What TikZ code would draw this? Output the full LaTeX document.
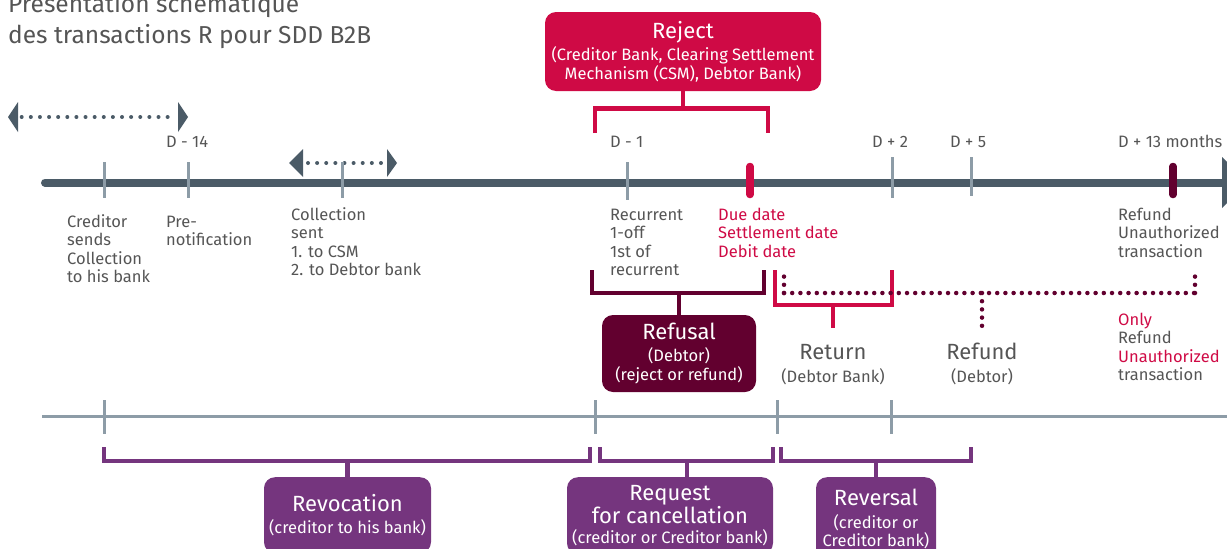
\documentclass[tikz,border=0pt]{standalone}
\usepackage{fontspec}
\setmainfont{Fira Sans}
\definecolor{slate}{HTML}{4B5B67}
\definecolor{tickgray}{HTML}{8D9CA7}
\definecolor{crim}{HTML}{CF0A45}
\definecolor{maroon}{HTML}{62002F}
\definecolor{purp}{HTML}{75357E}
\definecolor{txtgray}{HTML}{555555}
\newcommand\BigTxt{\fontsize{22}{24}\selectfont}
\tikzset{
  lbl/.style={font=\fontsize{16.5}{18.6}\selectfont, text=txtgray, inner sep=0pt, align=left, anchor=base west},
  clbl/.style={lbl, align=center, anchor=base},
  ttl/.style={font=\fontsize{24.5}{31}\selectfont, text=txtgray, inner sep=0pt, align=left, anchor=base west},
  tickline/.style={draw=tickgray, line width=3pt},
  fattick/.style={line width=7.5pt, line cap=round},
  mainline/.style={draw=slate, line width=8pt, line cap=round},
  box/.style={rounded corners=11pt, inner sep=0pt, align=center, text=white, font=\fontsize{16.5}{18.6}\selectfont},
  brk/.style={line width=4.5pt},
  dotline/.style={line width=4.5pt, line cap=round, dash pattern=on 0pt off 8.2pt},
  sdots/.style={line width=4pt, line cap=round, dash pattern=on 0pt off 9.12pt, draw=slate},
}
\begin{document}
\begin{tikzpicture}[x=1pt,y=-1pt]
\useasboundingbox (0,0) rectangle (1227,549);
\clip (0,0) rectangle (1227,549);

% title (anchor is the baseline of the last line)
\node[ttl] (title) at (8,43) {Présentation schématique\\des transactions R pour SDD B2B};

% dotted double arrows
\coordinate (a1L) at (21.7,117); \coordinate (a1R) at (176.7,117);
\draw[sdots] (a1L) -- (a1R);
\fill[slate] (8,117) -- (18,102) -- (18,132) -- cycle;
\fill[slate] (188,117) -- (178,102) -- (178,132) -- cycle;
\coordinate (a2L) at (308,163); \coordinate (a2R) at (381.7,163);
\draw[sdots] (a2L) -- (a2R);
\fill[slate] (289,163) -- (303,149) -- (303,177) -- cycle;
\fill[slate] (397,163) -- (387,149) -- (387,177) -- cycle;

% main timeline
\coordinate (mL) at (45,182.5); \coordinate (mR) at (1222,182.5);
\draw[mainline] (mL) -- (mR);
\fill[slate] (1222,157) -- (1248,182.5) -- (1222,208) -- cycle;
\foreach \x/\a/\b in {104/162/198, 188/162/198, 342/162/198, 627/162/200, 892/157/198, 971/157/196}
  \draw[tickline] (\x,\a) -- (\x,\b);
\draw[crim, fattick] (750,166.5) -- (750,194.5);
\draw[maroon, fattick] (1173,166.5) -- (1173,194.5);

% date labels
\node[lbl] (d14) at (166,147) {D - 14};
\node[lbl] (d1) at (610,147) {D - 1};
\node[lbl] (d2) at (872,147) {D + 2};
\node[lbl] (d5) at (950,147) {D + 5};
\node[lbl] (d13) at (1118,147) {D + 13 months};

% labels under the timeline (positions are last-line baselines)
\node[lbl] (cred) at (67,282.8) {Creditor\\sends\\Collection\\to his bank};
\node[lbl] (pre) at (166,245.6) {Pre-\\notification};
\node[lbl] (coll) at (291,275.8) {Collection\\sent\\1. to CSM\\2. to Debtor bank};
\node[lbl] (recur) at (610,275.8) {Recurrent\\1-off\\1st of\\recurrent};
\node[lbl, text=crim] (due) at (718,257.2) {Due date\\Settlement date\\Debit date};
\node[lbl] (refU) at (1118,257.2) {Refund\\Unauthorized\\transaction};

% Reject
\node[box, fill=crim, minimum width=276, minimum height=79] (reject) at (683,51.5)
  {{\BigTxt Reject}\\[2.5pt](Creditor Bank, Clearing Settlement\\Mechanism (CSM), Debtor Bank)};
\coordinate (rjL) at (595,133); \coordinate (rjR) at (768,133); \coordinate (rjM) at (683,108.5);
\draw[brk, crim] (rjL) |- (rjM) -| (rjR);
\draw[brk, crim] (reject.south) -- (rjM);

% Refusal
\node[box, fill=maroon, minimum width=154, minimum height=77] (refusal) at (679,353.5)
  {{\BigTxt Refusal}\\[3.5pt](Debtor)\\(reject or refund)};
\coordinate (rfL) at (592,270); \coordinate (rfR) at (764,270); \coordinate (rfM) at (679,293);
\draw[brk, maroon] (rfL) |- (rfM) -| (rfR);
\draw[brk, maroon] (refusal.north) -- (rfM);

% Return
\node[clbl] (return) at (833,382) {{\BigTxt Return}\\[3.5pt](Debtor Bank)};
\coordinate (rtL) at (775,270); \coordinate (rtR) at (892,270); \coordinate (rtM) at (833,305);
\coordinate (rtS) at (833,328);
\draw[brk, crim] (rtL) |- (rtM) -| (rtR);
\draw[brk, crim] (rtM) -- (rtS);

% Refund (dotted)
\coordinate (dA) at (784,271); \coordinate (dB) at (784,293);
\coordinate (dC) at (1195,293); \coordinate (dD) at (1195,272);
\coordinate (dR) at (982,293); \coordinate (dS) at (982,331);
\draw[dotline, maroon] (dB) -- (dA);
\draw[dotline, maroon] (dB) -- (dC);
\draw[dotline, maroon] (dC) -- (dD);
\draw[dotline, maroon] (dR) -- (dS);
\node[clbl] (refund) at (982,382) {{\BigTxt Refund}\\[3.5pt](Debtor)};
\node[lbl] (only) at (1118,380.8) {\textcolor{crim}{Only}\\Refund\\\textcolor{crim}{Unauthorized}\\transaction};

% lower timeline
\coordinate (lL) at (42,416); \coordinate (lR) at (1235,416);
\draw[tickline] (lL) -- (lR);
\foreach \x in {104,595,777,891}
  \draw[tickline] (\x,400) -- (\x,434);

% Revocation
\node[box, fill=purp, minimum width=167, minimum height=76, anchor=north] (revoc) at (347.5,477)
  {{\BigTxt Revocation}\\[3.5pt](creditor to his bank)};
\coordinate (rvL) at (104,447); \coordinate (rvR) at (590,447); \coordinate (rvM) at (347.5,461);
\draw[brk, purp] (rvL) |- (rvM) -| (rvR);
\draw[brk, purp] (rvM) -- (revoc.north);

% Request for cancellation
\node[box, fill=purp, minimum width=206, minimum height=77, anchor=north] (request) at (670,477)
  {{\BigTxt Request}\\[0pt]{\BigTxt for cancellation}\\[2pt](creditor or Creditor bank)};
\coordinate (rqL) at (600,447); \coordinate (rqR) at (773,447); \coordinate (rqM) at (687,461);
\draw[brk, purp] (rqL) |- (rqM) -| (rqR);
\draw[brk, purp] (rqM) -- (rqM |- request.north);

% Reversal
\node[box, fill=purp, minimum width=120, minimum height=84, anchor=north] (revers) at (876,477)
  {{\BigTxt Reversal}\\[3.5pt](creditor or\\Creditor bank)};
\coordinate (rsL) at (781,447); \coordinate (rsR) at (971,447); \coordinate (rsM) at (876,461);
\draw[brk, purp] (rsL) |- (rsM) -| (rsR);
\draw[brk, purp] (rsM) -- (revers.north);
\end{tikzpicture}
\end{document}
